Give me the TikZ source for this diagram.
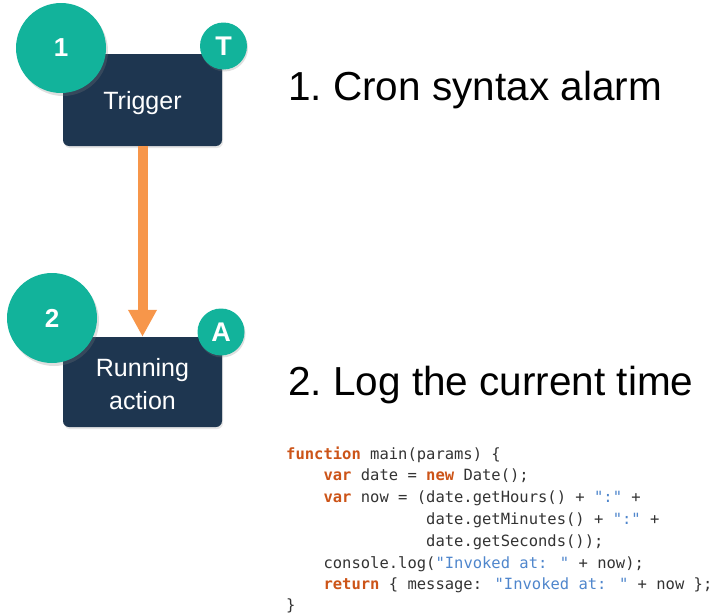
\documentclass[tikz,border=0pt]{standalone}
\usepackage{fontspec}
\setmainfont{Liberation Sans}
\newfontfamily\codefont{DejaVu Sans Mono}
\usetikzlibrary{shadows,arrows.meta}
\definecolor{navy}{HTML}{1E3650}
\definecolor{tealc}{HTML}{12B39B}
\definecolor{arrowc}{HTML}{F7964A}
\definecolor{kwc}{HTML}{CC5418}
\definecolor{strc}{HTML}{4F86CC}
\definecolor{codec}{HTML}{333333}
\newcommand{\kw}[1]{\textcolor{kwc}{\bfseries #1}}
\begin{document}
\begin{tikzpicture}[x=1pt,y=-1pt,
  stepbox/.style={fill=navy,rounded corners=6pt,inner sep=0pt,
    drop shadow={opacity=0.2,shadow xshift=1pt,shadow yshift=-2pt}},
  bigcirc/.style={circle,fill=tealc,inner sep=0pt,minimum size=90pt,text=white,
    font=\fontsize{26}{26}\selectfont\bfseries,
    drop shadow={opacity=0.25,shadow xshift=2pt,shadow yshift=-3pt}},
  smallcirc/.style={circle,fill=tealc,inner sep=0pt,minimum size=47pt,text=white,
    font=\fontsize{27}{27}\selectfont\bfseries,
    drop shadow={opacity=0.25,shadow xshift=1pt,shadow yshift=-2pt}},
  boxtext/.style={text=white,font=\fontsize{25}{33}\selectfont,align=center},
  heading/.style={anchor=base west,inner sep=0pt,font=\fontsize{40.5}{40.5}\selectfont,text=black},
  codeline/.style={anchor=base west,inner sep=0pt,font=\codefont\fontsize{15.5}{15.5}\selectfont,text=codec},
  flow/.style={draw=arrowc,line width=10pt,-{Triangle[width=27pt,length=27pt]}}
]
\useasboundingbox (0,0) rectangle (716,613);
% boxes
\node[stepbox,minimum width=159pt,minimum height=92pt] (trig) at (142.5,100) {};
\node[stepbox,minimum width=159pt,minimum height=90pt] (run) at (142.5,382) {};
\node[boxtext] (trigt) at (142.5,103) {Trigger};
\node[boxtext] (runt) at (142.5,384) {Running\\action};
% arrow
\draw[flow] (trig.south) -- (run.north);
% circles
\node[bigcirc] (c1) at (61,48) {1};
\node[bigcirc] (c2) at (52,318) {2};
\node[smallcirc] (ct) at (223.5,46) {T};
\node[smallcirc] (ca) at (221,332) {A};
% headings
\node[heading] (h1) at (288,100) {1.\ Cron syntax alarm};
\node[heading] (h2) at (288,395) {2.\ Log the current time};
% code
\node[codeline] (l1) at (286,459) {\kw{function} main(params) \{};
\node[codeline] (l2) at (286,480.8) {\phantom{xxxx}\kw{var} date = \kw{new} Date();};
\node[codeline] (l3) at (286,502.6) {\phantom{xxxx}\kw{var} now = (date.getHours() + \textcolor{strc}{":"} +};
\node[codeline] (l4) at (286,524.4) {\phantom{xxxxxxxxxxxxxxx}date.getMinutes() + \textcolor{strc}{":"} +};
\node[codeline] (l5) at (286,546.2) {\phantom{xxxxxxxxxxxxxxx}date.getSeconds());};
\node[codeline] (l6) at (286,568) {\phantom{xxxx}console.log(\textcolor{strc}{"Invoked at: "} + now);};
\node[codeline] (l7) at (286,589.8) {\phantom{xxxx}\kw{return} \{ message: \textcolor{strc}{"Invoked at: "} + now \};};
\node[codeline] (l8) at (286,610.5) {\}};
\end{tikzpicture}
\end{document}
